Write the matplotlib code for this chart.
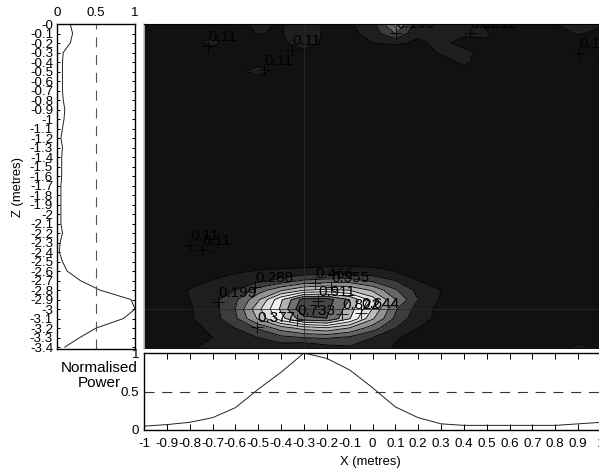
import matplotlib
matplotlib.use("Agg")
import matplotlib.pyplot as plt
import numpy as np

plt.rcParams['font.family'] = ['Liberation Sans', 'DejaVu Sans']
W, H = 599, 470

x_vals = [round(-1 + 0.1 * i, 1) for i in range(21)]
z_vals = [round(-0.1 * i, 1) for i in range(35)]

# power grid: one row per depth, columns x = -1 ... 1
power_rows = [
 [.06,.07,.08,.115,.08,.13,.10,.17,.09,.10,.16,.42,.14,.12,.14,.10,.07,.08,.11,.13,.115],
 [.06,.07,.08,.10,.08,.115,.10,.20,.08,.08,.15,.29,.12,.12,.12,.115,.07,.07,.09,.115,.10],
 [.06,.06,.08,.13,.07,.07,.09,.17,.08,.07,.11,.12,.10,.125,.09,.105,.06,.06,.07,.08,.08],
 [.05,.05,.06,.07,.07,.07,.08,.08,.07,.06,.07,.07,.07,.12,.13,.08,.06,.06,.06,.07,.09],
 [.05,.05,.06,.06,.08,.09,.07,.07,.06,.06,.06,.06,.06,.08,.125,.07,.06,.06,.06,.07,.12],
 [.05,.05,.05,.06,.09,.135,.08,.07,.06,.06,.06,.06,.06,.06,.08,.06,.05,.05,.06,.06,.07],
 [.05,.05,.05,.05,.06,.07,.06,.07,.06,.05,.05,.05,.05,.05,.05,.05,.05,.05,.05,.06,.06],
 [.05,.05,.05,.05,.05,.06,.06,.07,.05,.05,.05,.05,.05,.05,.05,.05,.05,.05,.05,.05,.05],
 [.05,.05,.05,.05,.05,.06,.06,.08,.06,.05,.05,.05,.05,.05,.05,.05,.05,.05,.05,.05,.05],
 [.05,.05,.05,.05,.05,.06,.07,.10,.06,.05,.05,.05,.05,.05,.05,.05,.05,.05,.05,.05,.05],
 [.05,.05,.05,.05,.05,.06,.07,.09,.06,.05,.05,.05,.05,.05,.05,.05,.05,.05,.05,.05,.05],
 [.05,.05,.05,.05,.05,.05,.06,.07,.06,.05,.05,.05,.05,.05,.05,.05,.05,.05,.05,.05,.05],
 [.05,.05,.05,.05,.05,.05,.05,.05,.05,.05,.05,.05,.05,.05,.05,.05,.05,.05,.05,.05,.05],
 [.05,.05,.05,.05,.05,.05,.06,.07,.05,.05,.05,.05,.05,.05,.05,.05,.05,.05,.05,.05,.05],
 [.05,.05,.05,.05,.05,.05,.05,.06,.05,.05,.05,.05,.05,.05,.05,.05,.05,.05,.05,.05,.05],
 [.05,.05,.05,.05,.05,.05,.05,.06,.05,.05,.05,.05,.05,.05,.05,.05,.05,.05,.05,.05,.05],
 [.05,.05,.05,.05,.05,.05,.05,.06,.05,.05,.05,.05,.05,.05,.05,.05,.05,.05,.05,.05,.05],
 [.05,.05,.05,.05,.05,.05,.05,.05,.05,.05,.05,.05,.05,.05,.05,.05,.05,.05,.05,.05,.05],
 [.05,.05,.05,.05,.05,.05,.05,.05,.05,.05,.05,.05,.05,.05,.05,.05,.05,.05,.05,.06,.08],
 [.05,.05,.05,.05,.05,.05,.05,.05,.05,.05,.05,.05,.05,.05,.05,.05,.05,.05,.05,.07,.12],
 [.05,.05,.05,.05,.05,.05,.05,.05,.05,.05,.05,.05,.05,.05,.05,.05,.05,.05,.05,.06,.08],
 [.05,.05,.05,.05,.05,.05,.05,.07,.05,.05,.05,.05,.05,.05,.05,.05,.05,.05,.05,.05,.05],
 [.05,.05,.05,.07,.05,.05,.05,.05,.05,.05,.05,.05,.05,.05,.05,.05,.05,.05,.05,.05,.05],
 [.05,.05,.05,.09,.07,.05,.04,.04,.05,.05,.05,.05,.05,.05,.05,.05,.05,.05,.05,.05,.05],
 [.05,.05,.06,.113,.08,.05,.04,.03,.05,.05,.05,.05,.05,.05,.05,.05,.05,.05,.05,.05,.05],
 [.05,.05,.05,.06,.07,.07,.07,.07,.08,.08,.08,.07,.06,.05,.05,.05,.05,.05,.05,.05,.05],
 [.05,.05,.06,.07,.10,.115,.125,.13,.135,.14,.13,.11,.08,.06,.05,.05,.05,.05,.05,.05,.05],
 [.05,.05,.08,.115,.14,.17,.23,.30,.32,.33,.27,.20,.11,.07,.05,.05,.05,.05,.05,.05,.05],
 [.06,.07,.115,.15,.20,.33,.45,.55,.58,.55,.45,.30,.17,.11,.07,.06,.05,.05,.05,.05,.05],
 [.06,.08,.11,.17,.27,.45,.72,.95,.95,.82,.60,.38,.20,.10,.06,.06,.05,.05,.05,.06,.06],
 [.05,.07,.10,.16,.29,.53,.75,1.0,.93,.78,.55,.30,.16,.08,.06,.06,.06,.06,.06,.08,.10],
 [.05,.06,.10,.16,.27,.48,.70,.88,.91,.74,.48,.27,.14,.09,.06,.05,.05,.05,.05,.06,.07],
 [.05,.06,.08,.13,.20,.30,.42,.50,.54,.46,.33,.20,.11,.07,.05,.05,.05,.05,.05,.06,.06],
 [.05,.05,.06,.11,.14,.20,.26,.29,.30,.27,.20,.12,.08,.06,.05,.05,.05,.05,.05,.07,.07],
 [.05,.05,.10,.13,.13,.14,.15,.12,.17,.19,.17,.10,.07,.05,.05,.05,.05,.05,.05,.13,.08],
]

# column x = -0.3 (left panel) and row z = -3 (bottom panel)
depth_profile = [.17,.20,.17,.08,.07,.07,.07,.07,.08,.10,.09,.07,.05,.07,.06,.06,.06,.05,.05,.05,.05,.05,.07,.04,.03,.07,.13,.30,.55,.95,1.0,.85,.50,.29,.10]
x_profile = [.05,.07,.10,.16,.29,.53,.75,1.0,.93,.78,.55,.30,.16,.08,.06,.06,.06,.06,.06,.08,.10]

levels = [0, .11, .199, .288, .377, .466, .555, .644, .733, .822, .911, 1.01]
band_colors = ['#111111', '#1e1e1e', '#3c3c3c', '#666666', '#929292', '#bcbcbc',
               '#dedede', '#f2f2f2', '#b4b4b4', '#707070', '#464646']

peak_labels = ['0.11', '0.11', '0.11', '0.199', '0.0211', '0.11', '0.11', '0.11',
               '0.199', '0.288', '0.377', '0.466', '0.555', '0.911', '0.733', '0.822', '0.644']
peak_x = [-.72, -.352, -.475, .103, .427, .904, -.799, -.746,
          -.676, -.514, -.505, -.252, -.182, -.238, -.33, -.133, -.05]
peak_z = [-.23, -.274, -.484, -.095, -.095, -.305, -2.326, -2.379,
          -2.926, -2.768, -3.189, -2.726, -2.768, -2.916, -3.116, -3.05, -3.04]

z_ticks = z_vals
x_ticks = x_vals


def fmt(v):
    return f'{v:g}'


def box(l, t, r, b):
    return [l / W, 1 - b / H, (r - l) / W, (b - t) / H]


fig = plt.figure(figsize=(W / 100, H / 100), dpi=100, facecolor='white')
tick_font = 9.6
dash = (0, (9, 7))

# main contour panel
ax = fig.add_axes(box(144, 24, 601, 349))
ax.set_facecolor('#111111')
ax.contourf(x_vals, z_vals, power_rows, levels=levels, colors=band_colors)
ax.contour(x_vals, z_vals, power_rows, levels=levels[1:-1], colors='black', linewidths=0.6)
ax.axvline(-0.3, color='#2a2a2a', lw=0.7, alpha=0.8)
ax.axhline(-3.0, color='#2a2a2a', lw=0.7, alpha=0.8)
ax.plot(peak_x, peak_z, '+', color='black', ms=8.5, mew=0.6)
for s, px, pz in zip(peak_labels, peak_x, peak_z):
    ax.annotate(s, xy=(px, pz), xytext=(0, 6.5), textcoords='offset points',
                ha='left', va='center', fontsize=11, color='black', clip_on=True)
ax.set_xlim(-1, 1)
ax.set_ylim(-3.42, 0)
ax.set_xticks([])
ax.set_yticks([])
for name, sp in ax.spines.items():
    sp.set_visible(name in ('left', 'top'))
ax.spines['left'].set_color('#c8c8c8')
ax.spines['left'].set_linewidth(1.2)
ax.spines['top'].set_color('black')
ax.spines['top'].set_linewidth(0.8)

# left profile
axl = fig.add_axes(box(57, 24, 135, 349))
axl.plot(depth_profile, z_vals, color='#222222', lw=0.7)
axl.axvline(0.5, color='#555555', lw=0.8, ls=dash)
axl.set_xlim(0, 1)
axl.set_ylim(-3.42, 0)
axl.set_xticks([0, 0.5, 1])
axl.set_xticklabels(['0', '0.5', '1'], fontsize=tick_font)
axl.xaxis.tick_top()
axl.set_yticks(z_ticks)
axl.set_yticklabels([fmt(v) for v in z_ticks], fontsize=tick_font)
axl.tick_params(axis='y', direction='in', length=2.2, width=0.7, left=True, right=True, pad=2.8)
axl.tick_params(axis='x', direction='in', length=0, pad=3.5)
for sp in axl.spines.values():
    sp.set_linewidth(1.0)
fig.text(18 / W, 1 - 187 / H, 'Z (metres)', rotation=90, ha='center', va='center', fontsize=9.4)

# bottom profile
axb = fig.add_axes(box(144, 353, 601, 430))
axb.plot(x_vals, x_profile, color='#222222', lw=0.7)
axb.axhline(0.5, color='#333333', lw=0.8, ls=dash)
axb.set_xlim(-1, 1)
axb.set_ylim(0, 1)
axb.set_xticks(x_ticks)
axb.set_xticklabels([fmt(v) for v in x_ticks], fontsize=tick_font)
axb.set_yticks([0, 0.5, 1])
axb.set_yticklabels(['0', '0.5', '1'], fontsize=tick_font)
axb.tick_params(axis='x', direction='in', length=4, width=0.7, top=True, bottom=True, pad=5.5)
axb.tick_params(axis='y', direction='in', length=0, pad=3.5)
for sp in axb.spines.values():
    sp.set_linewidth(1.0)
fig.text(370 / W, 1 - 462 / H, 'X (metres)', ha='center', va='center', fontsize=9.4)
fig.text(138 / W, 1 - 368 / H, 'Normalised', ha='right', va='center', fontsize=11)
fig.text(121 / W, 1 - 383 / H, 'Power', ha='right', va='center', fontsize=11)

fig.savefig('out.png', dpi=100)
